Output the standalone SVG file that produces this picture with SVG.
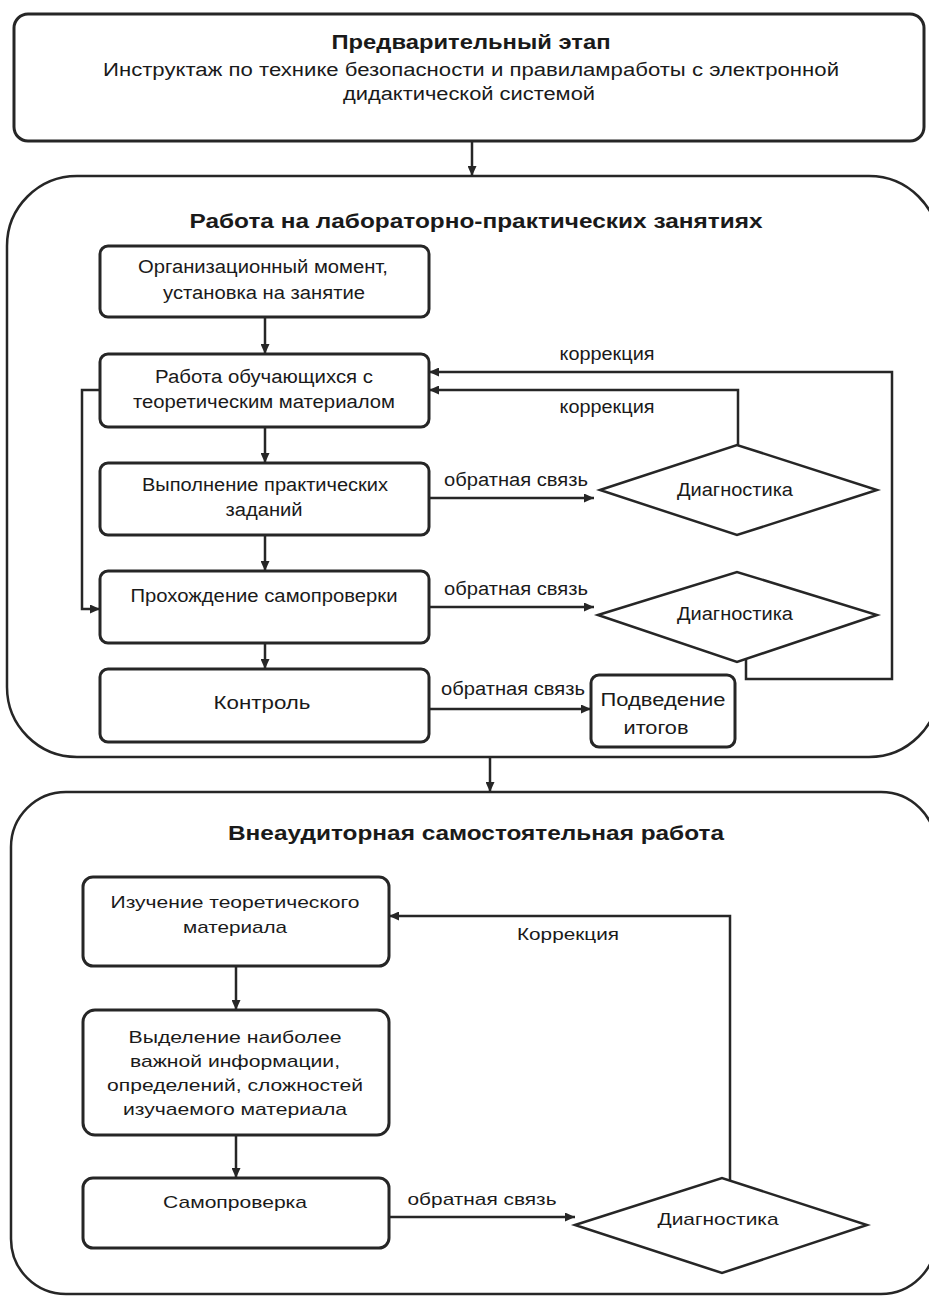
<svg xmlns="http://www.w3.org/2000/svg" width="929" height="1297" viewBox="0 0 929 1297">
<style>
.box{fill:#fff;stroke:#262626;stroke-width:3}
.frame{fill:#fff;stroke:#262626;stroke-width:2.5}
.dia{fill:#fff;stroke:#262626;stroke-width:2.5}
.ln{fill:none;stroke:#262626;stroke-width:2.5}
text{font-family:"Liberation Sans",Arial,sans-serif;fill:#1a1a1a;text-anchor:middle}
.t{font-size:18px}
.s{font-size:17px}
.h{font-size:20px;font-weight:bold}
</style>
<defs>
<marker id="ah" markerUnits="userSpaceOnUse" markerWidth="10" markerHeight="9" refX="10" refY="4.5" orient="auto">
<path d="M0,0 L10,4.5 L0,9 z" fill="#262626"/>
</marker>
</defs>
<rect width="929" height="1297" fill="#fff"/>

<g id="stage1">
<rect class="box" x="14" y="14" width="910" height="127" rx="14"/>
<text class="h" x="471" y="49" textLength="279" lengthAdjust="spacingAndGlyphs">Предварительный этап</text>
<text class="t" x="471" y="76" textLength="736" lengthAdjust="spacingAndGlyphs">Инструктаж по технике безопасности и правиламработы с электронной</text>
<text class="t" x="469" y="100" textLength="252" lengthAdjust="spacingAndGlyphs">дидактической системой</text>
</g>

<g id="stage2">
<rect class="frame" x="7" y="176" width="932" height="581" rx="70"/>
<text class="h" x="476" y="228" textLength="573" lengthAdjust="spacingAndGlyphs">Работа на лабораторно-практических занятиях</text>
</g>

<g id="stage3">
<rect class="frame" x="11" y="792" width="925" height="502" rx="55"/>
<text class="h" x="476" y="840" textLength="496" lengthAdjust="spacingAndGlyphs">Внеаудиторная самостоятельная работа</text>
</g>

<g id="org">
<rect class="box" x="100" y="246" width="329" height="71" rx="8"/>
<text class="t" x="263" y="273" textLength="250" lengthAdjust="spacingAndGlyphs">Организационный момент,</text>
<text class="t" x="264" y="299" textLength="202" lengthAdjust="spacingAndGlyphs">установка на занятие</text>
</g>

<g id="theory">
<rect class="box" x="100" y="354" width="329" height="73" rx="8"/>
<text class="t" x="264" y="383" textLength="218" lengthAdjust="spacingAndGlyphs">Работа обучающихся с</text>
<text class="t" x="264" y="408" textLength="262" lengthAdjust="spacingAndGlyphs">теоретическим материалом</text>
</g>

<g id="practice">
<rect class="box" x="100" y="463" width="329" height="72" rx="8"/>
<text class="t" x="265" y="491" textLength="246" lengthAdjust="spacingAndGlyphs">Выполнение практических</text>
<text class="t" x="264" y="516" textLength="77" lengthAdjust="spacingAndGlyphs">заданий</text>
</g>

<g id="selfcheck">
<rect class="box" x="100" y="571" width="329" height="72" rx="8"/>
<text class="t" x="264" y="602" textLength="267" lengthAdjust="spacingAndGlyphs">Прохождение самопроверки</text>
</g>

<g id="control">
<rect class="box" x="100" y="669" width="329" height="73" rx="8"/>
<text class="t" x="262" y="709" textLength="97" lengthAdjust="spacingAndGlyphs">Контроль</text>
</g>

<g id="diag1">
<polygon class="dia" points="600,490 737,445 877,490 737,535"/>
<text class="t" x="735" y="496" textLength="116" lengthAdjust="spacingAndGlyphs">Диагностика</text>
</g>

<g id="diag2">
<polygon class="dia" points="598,615 737,572 877,615 737,662"/>
<text class="t" x="735" y="620" textLength="116" lengthAdjust="spacingAndGlyphs">Диагностика</text>
</g>

<g id="summary">
<rect class="box" x="591" y="675" width="144" height="72" rx="8"/>
<text class="t" x="663" y="706" textLength="125" lengthAdjust="spacingAndGlyphs">Подведение</text>
<text class="t" x="656" y="734" textLength="65" lengthAdjust="spacingAndGlyphs">итогов</text>
</g>

<g id="study">
<rect class="box" x="83" y="877" width="306" height="89" rx="10"/>
<text class="s" x="235" y="908" textLength="249" lengthAdjust="spacingAndGlyphs">Изучение теоретического</text>
<text class="s" x="235" y="933" textLength="104" lengthAdjust="spacingAndGlyphs">материала</text>
</g>

<g id="highlight">
<rect class="box" x="83" y="1010" width="306" height="125" rx="12"/>
<text class="s" x="235" y="1043" textLength="213" lengthAdjust="spacingAndGlyphs">Выделение наиболее</text>
<text class="s" x="235" y="1067" textLength="210" lengthAdjust="spacingAndGlyphs">важной информации,</text>
<text class="s" x="235" y="1091" textLength="256" lengthAdjust="spacingAndGlyphs">определений, сложностей</text>
<text class="s" x="235" y="1115" textLength="224" lengthAdjust="spacingAndGlyphs">изучаемого материала</text>
</g>

<g id="selftest">
<rect class="box" x="83" y="1178" width="306" height="70" rx="10"/>
<text class="s" x="235" y="1208" textLength="144" lengthAdjust="spacingAndGlyphs">Самопроверка</text>
</g>

<g id="diag3">
<polygon class="dia" points="575,1225 722,1178 867,1225 722,1273"/>
<text class="s" x="718" y="1225" textLength="121" lengthAdjust="spacingAndGlyphs">Диагностика</text>
</g>

<g id="connectors">
<line class="ln" x1="472" y1="141" x2="472" y2="176" marker-end="url(#ah)"/>
<line class="ln" x1="265" y1="317" x2="265" y2="354" marker-end="url(#ah)"/>
<line class="ln" x1="265" y1="427" x2="265" y2="463" marker-end="url(#ah)"/>
<line class="ln" x1="265" y1="535" x2="265" y2="571" marker-end="url(#ah)"/>
<line class="ln" x1="265" y1="643" x2="265" y2="669" marker-end="url(#ah)"/>
<polyline class="ln" points="100,390 82,390 82,609 100,609" marker-end="url(#ah)"/>
<line class="ln" x1="429" y1="498" x2="594" y2="498" marker-end="url(#ah)"/>
<line class="ln" x1="429" y1="607" x2="594" y2="607" marker-end="url(#ah)"/>
<line class="ln" x1="429" y1="709" x2="591" y2="709" marker-end="url(#ah)"/>
<polyline class="ln" points="738,445 738,390 429,390" marker-end="url(#ah)"/>
<polyline class="ln" points="746,659 746,679 892,679 892,372 429,372" marker-end="url(#ah)"/>
<line class="ln" x1="490" y1="757" x2="490" y2="792" marker-end="url(#ah)"/>
<line class="ln" x1="236" y1="966" x2="236" y2="1010" marker-end="url(#ah)"/>
<line class="ln" x1="236" y1="1135" x2="236" y2="1178" marker-end="url(#ah)"/>
<line class="ln" x1="389" y1="1217" x2="575" y2="1217" marker-end="url(#ah)"/>
<polyline class="ln" points="730,1180 730,916 389,916" marker-end="url(#ah)"/>
<text class="t" x="607" y="360" textLength="95" lengthAdjust="spacingAndGlyphs">коррекция</text>
<text class="t" x="607" y="413" textLength="95" lengthAdjust="spacingAndGlyphs">коррекция</text>
<text class="t" x="516" y="486" textLength="144" lengthAdjust="spacingAndGlyphs">обратная связь</text>
<text class="t" x="516" y="595" textLength="144" lengthAdjust="spacingAndGlyphs">обратная связь</text>
<text class="t" x="513" y="695" textLength="144" lengthAdjust="spacingAndGlyphs">обратная связь</text>
<text class="s" x="482" y="1205" textLength="149" lengthAdjust="spacingAndGlyphs">обратная связь</text>
<text class="s" x="568" y="940" textLength="102" lengthAdjust="spacingAndGlyphs">Коррекция</text>
</g>
</svg>
